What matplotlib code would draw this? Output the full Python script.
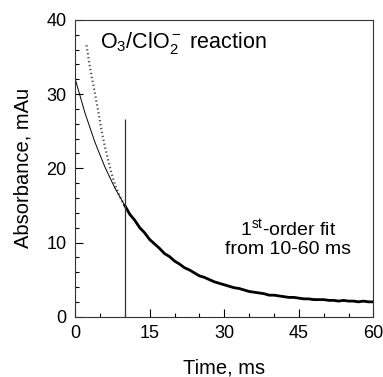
import numpy as np
import matplotlib.pyplot as plt
import matplotlib.transforms as mtransforms
from matplotlib.ticker import MultipleLocator

plt.rcParams['font.family'] = ['Liberation Sans', 'DejaVu Sans']
plt.rcParams['mathtext.fontset'] = 'custom'
plt.rcParams['mathtext.rm'] = 'Liberation Sans'
plt.rcParams['mathtext.it'] = 'Liberation Sans:italic'

# early data (dotted, before fit window)
t_early = [2.3, 2.8, 3.3, 3.8, 4.3, 4.8, 5.3, 5.8, 6.3, 6.8, 7.3, 7.8, 8.3, 8.8, 9.3, 9.8, 10.0]
a_early = [36.6, 34.4, 32.5, 30.8, 29.0, 27.2, 25.2, 23.5, 22.1, 20.7, 19.4, 18.3, 17.3, 16.5, 15.8, 15.2, 15.0]

# measured data 10-60 ms
t_data = list(range(10, 61))
a_data = [15.0, 13.8, 13.0, 12.0, 11.3, 10.4, 9.8, 9.2, 8.5, 8.1, 7.5,
          7.1, 6.6, 6.3, 5.9, 5.5, 5.3, 5.0, 4.7, 4.5, 4.3,
          4.1, 3.9, 3.8, 3.6, 3.4, 3.3, 3.2, 3.1, 2.9, 2.9,
          2.8, 2.7, 2.6, 2.6, 2.5, 2.4, 2.4, 2.3, 2.3, 2.3,
          2.2, 2.2, 2.1, 2.2, 2.1, 2.1, 2.0, 2.1, 2.0, 2.0]

# first-order fit curve
t_fit = list(range(0, 61, 2))
a_fit = [32.1, 27.45, 23.51, 20.18, 17.36, 14.97, 12.95, 11.24, 9.79, 8.56,
         7.52, 6.64, 5.90, 5.27, 4.74, 4.29, 3.91, 3.58, 3.31, 3.08,
         2.88, 2.72, 2.58, 2.46, 2.36, 2.27, 2.20, 2.14, 2.08, 2.04, 2.00]

fit_start = 10
marker_top = 26.6

fig = plt.figure(figsize=(3.83, 3.77), dpi=100)
ax = fig.add_axes([0.196, 0.160, 0.779, 0.787])

ax.plot(t_early, a_early, color='#555555', linewidth=1.6, linestyle=(0, (0.6, 1.2)))
ax.plot(t_fit, a_fit, color='black', linewidth=0.7)
ax.plot(t_data, a_data, color='black', linewidth=2.0)
ax.vlines(fit_start, 0, marker_top, color='#333333', linewidth=0.9)

ax.set_xlim(0, 60)
ax.set_ylim(0, 40)
ax.xaxis.set_major_locator(MultipleLocator(15))
ax.xaxis.set_minor_locator(MultipleLocator(5))
ax.yaxis.set_major_locator(MultipleLocator(10))
ax.yaxis.set_minor_locator(MultipleLocator(2))
ax.tick_params(which='both', direction='in', top=False, right=False, labelsize=13)
ax.tick_params(which='major', length=6, width=0.8, pad=6)
ax.tick_params(which='minor', length=3, width=0.8)
for s in ax.spines.values():
    s.set_linewidth(0.8)
    s.set_color('#333333')

ax.set_xlabel('Time, ms', fontsize=14.5, labelpad=12)
ax.set_ylabel('Absorbance, mAu', fontsize=14.5, labelpad=10)

ax.text(5, 36.9, 'O$_3$/ClO$_2^-$ reaction', fontsize=15.5, va='center', ha='left')
ax.text(42.8, 10.6, '1$^{\\mathrm{st}}$-order fit\nfrom 10-60 ms', fontsize=14,
        ha='center', va='center', linespacing=1.1)

# keep the last x tick label inside the figure
fig.canvas.draw()
last = ax.get_xticklabels()[-1]
last.set_transform(last.get_transform() +
                   mtransforms.ScaledTranslation(-3 / 72, 0, fig.dpi_scale_trans))

fig.savefig('out.png', dpi=100)
